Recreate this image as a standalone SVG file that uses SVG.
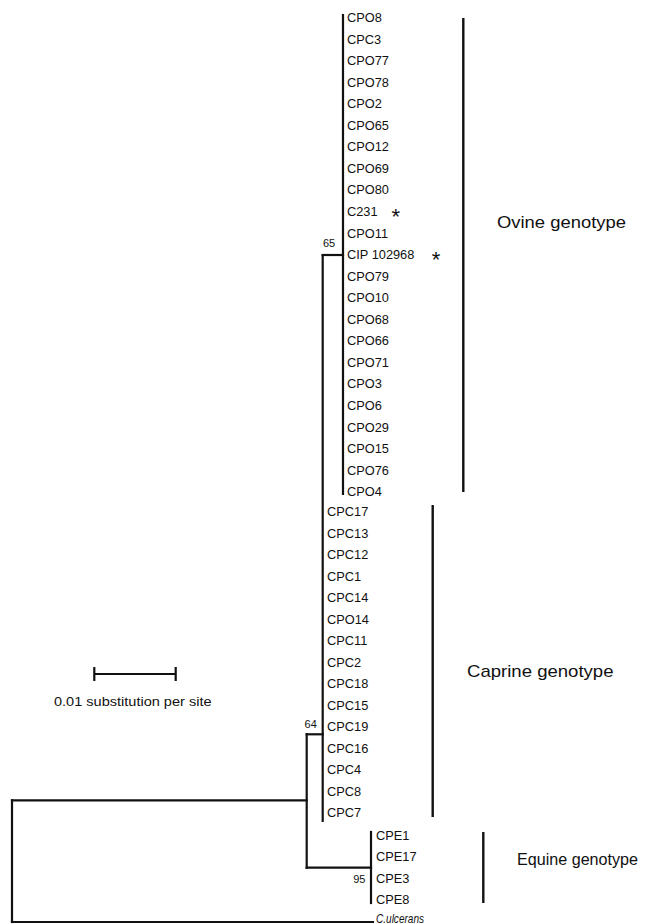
<svg xmlns="http://www.w3.org/2000/svg" width="659" height="924" viewBox="0 0 659 924">
<style>
.br{stroke:#111;stroke-width:2.2;fill:none;stroke-linecap:square}
.bar{stroke:#111;stroke-width:2.4;fill:none}
.lab{font-family:"Liberation Sans",Arial,sans-serif;font-size:12.8px;fill:#111}
.sup{font-family:"Liberation Sans",Arial,sans-serif;font-size:11px;fill:#111;text-anchor:middle}
.ast{font-family:"Liberation Sans",Arial,sans-serif;font-size:22px;fill:#111;text-anchor:middle}
.clade{font-family:"Liberation Sans",Arial,sans-serif;font-size:17px;fill:#111}
</style>
<rect width="659" height="924" fill="#fff"/>
<g id="connectors">
<path class="br" d="M343,15 V494"/>
<path class="br" d="M322.7,255 H343"/>
<path class="br" d="M322.7,255 V821"/>
<path class="br" d="M306.7,734.3 H322.7"/>
<path class="br" d="M306.7,734.3 V867.7"/>
<path class="br" d="M12,800.3 H306.7"/>
<path class="br" d="M306.7,867.7 H371"/>
<path class="br" d="M371,832 V903"/>
<path class="br" d="M12,800.3 V922"/>
<path class="br" d="M12,922 H373"/>
</g>
<g id="support">
<text class="sup" x="329" y="247">65</text>
<text class="sup" x="310.7" y="728">64</text>
<text class="sup" x="359.3" y="883.3">95</text>
</g>
<g id="ovine-taxa" class="lab">
<g id="CPO8"><text x="347" y="21.9">CPO8</text></g>
<g id="CPC3"><text x="347" y="43.5">CPC3</text></g>
<g id="CPO77"><text x="347" y="65">CPO77</text></g>
<g id="CPO78"><text x="347" y="86.6">CPO78</text></g>
<g id="CPO2"><text x="347" y="108.1">CPO2</text></g>
<g id="CPO65"><text x="347" y="129.7">CPO65</text></g>
<g id="CPO12"><text x="347" y="151.3">CPO12</text></g>
<g id="CPO69"><text x="347" y="172.8">CPO69</text></g>
<g id="CPO80"><text x="347" y="194.4">CPO80</text></g>
<g id="C231"><text x="347" y="215.9">C231</text><text class="ast" x="395.7" y="223.5">*</text></g>
<g id="CPO11"><text x="347" y="237.5">CPO11</text></g>
<g id="CIP102968"><text x="347" y="259.1">CIP 102968</text><text class="ast" x="436" y="267">*</text></g>
<g id="CPO79"><text x="347" y="280.6">CPO79</text></g>
<g id="CPO10"><text x="347" y="302.2">CPO10</text></g>
<g id="CPO68"><text x="347" y="323.7">CPO68</text></g>
<g id="CPO66"><text x="347" y="345.3">CPO66</text></g>
<g id="CPO71"><text x="347" y="366.9">CPO71</text></g>
<g id="CPO3"><text x="347" y="388.4">CPO3</text></g>
<g id="CPO6"><text x="347" y="410">CPO6</text></g>
<g id="CPO29"><text x="347" y="431.5">CPO29</text></g>
<g id="CPO15"><text x="347" y="453.1">CPO15</text></g>
<g id="CPO76"><text x="347" y="474.7">CPO76</text></g>
<g id="CPO4"><text x="347" y="496.2">CPO4</text></g>
</g>
<g id="caprine-taxa" class="lab">
<g id="CPC17"><text x="327" y="516.3">CPC17</text></g>
<g id="CPC13"><text x="327" y="537.8">CPC13</text></g>
<g id="CPC12"><text x="327" y="559.3">CPC12</text></g>
<g id="CPC1"><text x="327" y="580.8">CPC1</text></g>
<g id="CPC14"><text x="327" y="602.3">CPC14</text></g>
<g id="CPO14"><text x="327" y="623.8">CPO14</text></g>
<g id="CPC11"><text x="327" y="645.3">CPC11</text></g>
<g id="CPC2"><text x="327" y="666.8">CPC2</text></g>
<g id="CPC18"><text x="327" y="688.3">CPC18</text></g>
<g id="CPC15"><text x="327" y="709.8">CPC15</text></g>
<g id="CPC19"><text x="327" y="731.3">CPC19</text></g>
<g id="CPC16"><text x="327" y="752.8">CPC16</text></g>
<g id="CPC4"><text x="327" y="774.3">CPC4</text></g>
<g id="CPC8"><text x="327" y="795.8">CPC8</text></g>
<g id="CPC7"><text x="327" y="817.3">CPC7</text></g>
</g>
<g id="equine-taxa" class="lab">
<g id="CPE1"><text x="376" y="840.3">CPE1</text></g>
<g id="CPE17"><text x="376" y="861.4">CPE17</text></g>
<g id="CPE3"><text x="376" y="882.6">CPE3</text></g>
<g id="CPE8"><text x="376" y="903.8">CPE8</text></g>
</g>
<g id="outgroup"><text class="lab" x="376" y="922.5" font-size="10.5" font-style="italic" textLength="48" lengthAdjust="spacingAndGlyphs">C.ulcerans</text></g>
<g id="clade-ovine"><path class="bar" d="M463.3,18 V492"/><text class="clade" x="497" y="228" textLength="129" lengthAdjust="spacingAndGlyphs">Ovine genotype</text></g>
<g id="clade-caprine"><path class="bar" d="M432.7,505 V817"/><text class="clade" x="467" y="677" textLength="146.5" lengthAdjust="spacingAndGlyphs">Caprine genotype</text></g>
<g id="clade-equine"><path class="bar" d="M483.3,832 V903"/><text class="clade" x="517" y="865" textLength="121" lengthAdjust="spacingAndGlyphs">Equine genotype</text></g>
<g id="scale">
<path class="br" d="M94.3,674 H175.7 M94.3,668 V680 M175.7,668 V680"/>
<text class="lab" x="54" y="706" font-size="12.6" textLength="157.5" lengthAdjust="spacingAndGlyphs">0.01 substitution per site</text>
</g>
</svg>
